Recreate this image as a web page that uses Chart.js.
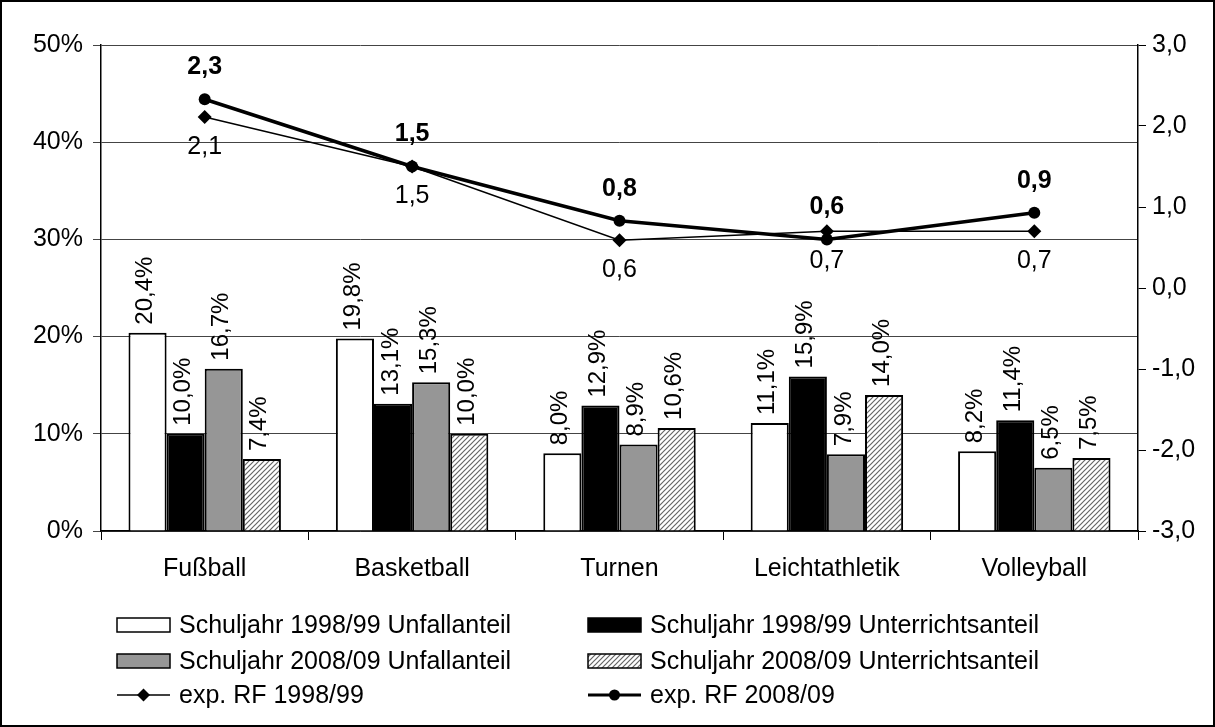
<!DOCTYPE html>
<html>
<head>
<meta charset="utf-8">
<script src="https://cdn.jsdelivr.net/npm/chart.js@4"></script>
<style>
  html, body { margin: 0; padding: 0; background: #fff; }
  #wrap { width: 1215px; height: 727px; position: relative; }
</style>
</head>
<body>
<div id="wrap"><canvas id="sportChart" width="1215" height="727"></canvas></div>
<script>
var categories = ['Fußball', 'Basketball', 'Turnen', 'Leichtathletik', 'Volleyball'];
var unfall9899 = [20.4, 19.8, 8.0, 11.1, 8.2];
var unterricht9899 = [10.0, 13.1, 12.9, 15.9, 11.4];
var unfall0809 = [16.7, 15.3, 8.9, 7.9, 6.5];
var unterricht0809 = [7.4, 10.0, 10.6, 14.0, 7.5];
var rf9899 = [2.11, 1.5, 0.59, 0.7, 0.7];
var rf0809 = [2.33, 1.5, 0.83, 0.6, 0.93];
var seriesNames = [
    'Schuljahr 1998/99 Unfallanteil',
    'Schuljahr 1998/99 Unterrichtsanteil',
    'Schuljahr 2008/09 Unfallanteil',
    'Schuljahr 2008/09 Unterrichtsanteil',
    'exp. RF 1998/99',
    'exp. RF 2008/09'
];

var FONT = '"Liberation Sans", Arial, sans-serif';
var FS = 25;

function comma(v, d) {
    return v.toFixed(d).replace('.', ',');
}

// diagonal hatch for the 2008/09 Unterrichtsanteil bars
function makeHatch() {
    var c = document.createElement('canvas');
    c.width = 5; c.height = 5;
    var g = c.getContext('2d');
    g.fillStyle = '#ffffff';
    g.fillRect(0, 0, 5, 5);
    g.strokeStyle = '#666666';
    g.lineWidth = 1.2;
    g.beginPath();
    g.moveTo(-1, 6); g.lineTo(6, -1);
    g.moveTo(-1, 1); g.lineTo(1, -1);
    g.moveTo(4, 6); g.lineTo(6, 4);
    g.stroke();
    return g.createPattern(c, 'repeat');
}
var hatch = makeHatch();

var extras = {
    id: 'extras',
    afterDatasetsDraw: function(chart) {
        var ctx = chart.ctx;
        ctx.save();
        ctx.fillStyle = '#000';
        // bar value labels, rotated
        ctx.font = (FS - 1) + 'px ' + FONT;
        for (var d = 0; d < 4; d++) {
            var meta = chart.getDatasetMeta(d);
            meta.data.forEach(function(bar, i) {
                ctx.save();
                ctx.translate(bar.x - 2, bar.y - 8);
                ctx.rotate(-Math.PI / 2);
                ctx.textAlign = 'left';
                ctx.textBaseline = 'middle';
                ctx.fillText(comma(chart.data.datasets[d].data[i], 1) + '%', 0, 0);
                ctx.restore();
            });
        }
        // line value labels
        ctx.textAlign = 'center';
        ctx.textBaseline = 'middle';
        var m98 = chart.getDatasetMeta(4);
        ctx.font = FS + 'px ' + FONT;
        m98.data.forEach(function(p, i) {
            ctx.fillText(comma(rf9899[i], 1), p.x, p.y + 30);
        });
        var m08 = chart.getDatasetMeta(5);
        ctx.font = 'bold ' + FS + 'px ' + FONT;
        m08.data.forEach(function(p, i) {
            ctx.fillText(comma(rf0809[i], 1), p.x, p.y - 32);
        });
        ctx.restore();
    },
    afterDraw: function(chart) {
        var ctx = chart.ctx;
        ctx.save();
        // legend, two columns
        var cols = [117, 588];
        var rows = [625, 661, 695];
        var fills = ['#ffffff', '#000000', '#969696', hatch];
        ctx.font = FS + 'px ' + FONT;
        ctx.textAlign = 'left';
        ctx.textBaseline = 'middle';
        for (var k = 0; k < 6; k++) {
            var x = cols[k % 2];
            var y = rows[Math.floor(k / 2)];
            if (k < 4) {
                ctx.fillStyle = fills[k];
                ctx.fillRect(x, y - 7, 53, 14);
                ctx.strokeStyle = '#000';
                ctx.lineWidth = 1.5;
                ctx.strokeRect(x, y - 7, 53, 14);
            } else {
                ctx.strokeStyle = '#000';
                ctx.lineWidth = k === 4 ? 1.5 : 3;
                ctx.beginPath();
                ctx.moveTo(x, y); ctx.lineTo(x + 53, y);
                ctx.stroke();
                ctx.fillStyle = '#000';
                ctx.beginPath();
                if (k === 4) {
                    ctx.moveTo(x + 26.5, y - 6.5);
                    ctx.lineTo(x + 33, y);
                    ctx.lineTo(x + 26.5, y + 6.5);
                    ctx.lineTo(x + 20, y);
                    ctx.closePath();
                } else {
                    ctx.arc(x + 26.5, y, 5.5, 0, Math.PI * 2);
                }
                ctx.fill();
            }
            ctx.fillStyle = '#000';
            ctx.fillText(seriesNames[k], x + 62, y + 1);
        }
        // outer frame
        ctx.strokeStyle = '#000';
        ctx.lineWidth = 2;
        ctx.strokeRect(1, 1, chart.width - 2, chart.height - 2);
        ctx.restore();
    }
};

var ctx = document.getElementById('sportChart').getContext('2d');
var sportChart = new Chart(ctx, {
    type: 'bar',
    data: {
        labels: categories,
        datasets: [
            {
                label: seriesNames[0],
                data: unfall9899,
                backgroundColor: '#ffffff',
                borderColor: '#000000',
                borderWidth: 2,
                yAxisID: 'y',
                order: 2
            },
            {
                label: seriesNames[1],
                data: unterricht9899,
                backgroundColor: '#000000',
                borderColor: '#000000',
                borderWidth: 2,
                yAxisID: 'y',
                order: 2
            },
            {
                label: seriesNames[2],
                data: unfall0809,
                backgroundColor: '#969696',
                borderColor: '#000000',
                borderWidth: 2,
                yAxisID: 'y',
                order: 2
            },
            {
                label: seriesNames[3],
                data: unterricht0809,
                backgroundColor: hatch,
                borderColor: '#000000',
                borderWidth: 2,
                yAxisID: 'y',
                order: 2
            },
            {
                type: 'line',
                label: seriesNames[4],
                data: rf9899,
                borderColor: '#000000',
                backgroundColor: '#000000',
                borderWidth: 1.5,
                pointStyle: 'rectRot',
                pointRadius: 7,
                pointBorderWidth: 0,
                yAxisID: 'y2',
                order: 1
            },
            {
                type: 'line',
                label: seriesNames[5],
                data: rf0809,
                borderColor: '#000000',
                backgroundColor: '#000000',
                borderWidth: 3.5,
                pointStyle: 'circle',
                pointRadius: 6,
                pointBorderWidth: 0,
                yAxisID: 'y2',
                order: 0
            }
        ]
    },
    options: {
        responsive: false,
        animation: false,
        layout: {
            padding: { left: 0, right: 0, top: 45, bottom: 146 }
        },
        plugins: {
            legend: { display: false },
            tooltip: { enabled: false }
        },
        datasets: {
            bar: { categoryPercentage: 0.735, barPercentage: 1.0 }
        },
        scales: {
            x: {
                offset: true,
                grid: {
                    offset: true,
                    drawOnChartArea: false,
                    drawTicks: true,
                    tickLength: 9,
                    color: '#000',
                    lineWidth: 1
                },
                border: { color: '#000', width: 1.5 },
                ticks: {
                    color: '#000',
                    font: { family: FONT, size: FS },
                    padding: 14
                },
                afterFit: function(scale) { scale.height = 50; }
            },
            y: {
                position: 'left',
                min: 0,
                max: 50,
                ticks: {
                    stepSize: 10,
                    color: '#000',
                    font: { family: FONT, size: FS },
                    padding: 10,
                    callback: function(v) { return v + '%'; }
                },
                grid: {
                    color: '#444',
                    lineWidth: 1,
                    tickLength: 8,
                    drawTicks: true
                },
                border: { color: '#000', width: 1.5 },
                afterFit: function(scale) { scale.width = 101; }
            },
            y2: {
                position: 'right',
                min: -3,
                max: 3,
                ticks: {
                    stepSize: 1,
                    color: '#000',
                    font: { family: FONT, size: FS },
                    padding: 6,
                    callback: function(v) { return comma(v, 1); }
                },
                grid: {
                    drawOnChartArea: false,
                    tickLength: 8,
                    color: '#000',
                    lineWidth: 1
                },
                border: { color: '#000', width: 1.5 },
                afterFit: function(scale) { scale.width = 77; }
            }
        }
    },
    plugins: [extras]
});
</script>
</body>
</html>
